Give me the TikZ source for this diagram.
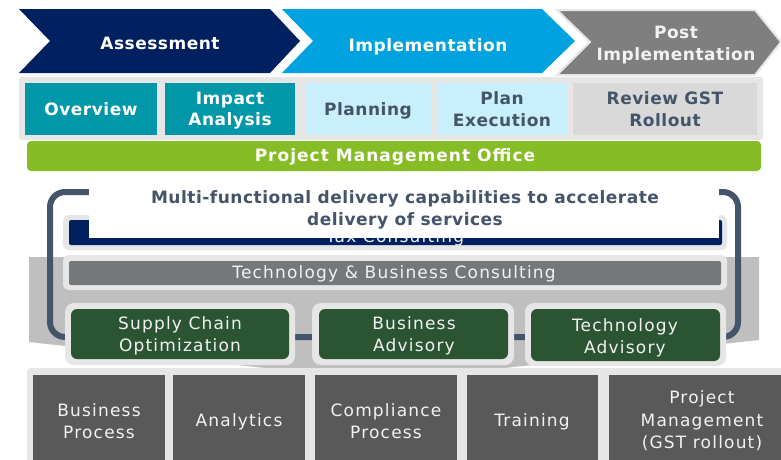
\documentclass[tikz,border=0pt]{standalone}
\usepackage{fontspec}
\setmainfont{DejaVu Sans}
\newfontfamily\bsp[LetterSpace=3]{DejaVu Sans}
\newfontfamily\bwide[LetterSpace=6]{DejaVu Sans}
\newfontfamily\rsp[LetterSpace=7]{DejaVu Sans}
\usetikzlibrary{fit}
\definecolor{navyc}{HTML}{002060}
\definecolor{skyc}{HTML}{00A3E0}
\definecolor{phgray}{HTML}{7F7F7F}
\definecolor{tealc}{HTML}{0097A9}
\definecolor{lblue}{HTML}{C9EEFC}
\definecolor{lgrayc}{HTML}{D9D9D9}
\definecolor{panelc}{HTML}{E6E6E6}
\definecolor{slatec}{HTML}{44546A}
\definecolor{pmoc}{HTML}{86BC25}
\definecolor{techgray}{HTML}{75787B}
\definecolor{dgreen}{HTML}{2B5532}
\definecolor{shadowc}{HTML}{BFBFBF}
\definecolor{dgrayc}{HTML}{595959}
\definecolor{outlc}{HTML}{E7E6E6}
\definecolor{softwhite}{HTML}{F2F2F2}
\begin{document}
\begin{tikzpicture}[x=1pt,y=-1pt,
  every node/.style={inner sep=0pt,outer sep=0pt,align=center},
  boldtext/.style={font=\bsp\bfseries\fontsize{17}{21.5}\selectfont},
  widetext/.style={font=\bwide\bfseries\fontsize{17}{21.5}\selectfont},
  regtext/.style={font=\rsp\fontsize{17}{22.5}\selectfont, text=softwhite},
  boxfit/.style={fit={#1}, inner sep=0pt},
]
\useasboundingbox[fill=white] (0,0) rectangle (781,459);

% ---- phase chevrons ----
\fill[navyc] (19,9) -- (270,9) -- (300,41) -- (270,73) -- (19,73) -- (50,41) -- cycle;
\fill[skyc] (282,9) -- (542,9) -- (575,41) -- (542,73) -- (282,73) -- (313,41) -- cycle;
\filldraw[fill=phgray, draw=outlc, line width=2pt, line join=miter]
  (557,10) -- (755,10) -- (781,42) -- (755,75) -- (557,75) -- (590,42) -- cycle;
\node[boldtext, text=white] (assess) at (160,43) {Assessment};
\node[boldtext, text=white] (impl) at (428,46.5) {Implementation};
\node[boldtext, text=softwhite] (postimpl) at (676,45) {Post\\Implementation};

% ---- sub-phase boxes ----
\node[boxfit={(19,77) (763,140)}, fill=panelc, rounded corners=3pt] (subpanel) {};
\node[boxfit={(25,83) (157,135)}, fill=tealc] (overviewbox) {};
\node[boxfit={(165,83) (295,135)}, fill=tealc] (impactbox) {};
\node[boxfit={(305,83) (431,135)}, fill=lblue] (planbox) {};
\node[boxfit={(437,83) (567,135)}, fill=lblue] (execbox) {};
\node[boxfit={(573,83) (757,135)}, fill=lgrayc] (reviewbox) {};
\node[boldtext, text=white] (overview) at (91,109) {Overview};
\node[boldtext, text=white] (impact) at (230,110.5) {Impact\\Analysis};
\node[boldtext, text=slatec] (planning) at (368,111) {Planning};
\node[boldtext, text=slatec] (execution) at (502,109) {Plan\\Execution};
\node[boldtext, text=slatec] (review) at (665,109) {Review GST\\Rollout};

% ---- PMO bar ----
\node[boxfit={(27,141) (761,171)}, fill=pmoc, rounded corners=4pt] (pmobox) {};
\node[widetext, text=white] (pmo) at (395,157) {Project Management Office};

% ---- middle section ----
\fill[shadowc] (29,257) -- (759,257) -- (759,340) -- (505,368) -- (265,368) -- (29,342) -- cycle;
\draw[slatec, line width=6pt, rounded corners=15pt] (50,192) rectangle (738,337);

\node[boxfit={(63,215) (727,250)}, fill=outlc, rounded corners=6pt] (taxouter) {};
\node[boxfit={(69,220) (722,245)}, fill=navyc, rounded corners=2pt] (taxbar) {};
\node[regtext, anchor=base] (taxtext) at (395,242.5) {Tax Consulting};

\node[boxfit={(63,255) (727,290)}, fill=outlc, rounded corners=6pt] (techouter) {};
\node[boxfit={(69,261) (721,285)}, fill=techgray, rounded corners=2pt] (techbar) {};
\node[regtext] (techtext) at (394,274) {Technology \& Business Consulting};

\node[boxfit={(65,303) (295,365)}, fill=outlc, rounded corners=9pt] (scoouter) {};
\node[boxfit={(71,309) (289,359)}, fill=dgreen, rounded corners=6pt] (scobox) {};
\node[boxfit={(312,303) (514,365)}, fill=outlc, rounded corners=9pt] (baouter) {};
\node[boxfit={(319,309) (508,359)}, fill=dgreen, rounded corners=6pt] (babox) {};
\node[boxfit={(525,303) (726,366)}, fill=outlc, rounded corners=9pt] (taouter) {};
\node[boxfit={(531,309) (720,361)}, fill=dgreen, rounded corners=6pt] (tabox) {};
\node[regtext] (sco) at (180,336) {Supply Chain\\Optimization};
\node[regtext] (ba) at (414,336) {Business\\Advisory};
\node[regtext] (ta) at (625,338) {Technology\\Advisory};

% ---- header over the bracket ----
\node[boxfit={(89,175) (719,238)}, fill=white] (hdrbox) {};
\node[boldtext, text=slatec] (hdr) at (405,210) {Multi-functional delivery capabilities to accelerate\\delivery of services};

% ---- bottom row ----
\node[boxfit={(27,368) (795,470)}, fill=outlc, rounded corners=4pt] (botpanel) {};
\node[boxfit={(33,375) (165,465)}, fill=dgrayc] (bpbox) {};
\node[boxfit={(173,375) (305,465)}, fill=dgrayc] (anbox) {};
\node[boxfit={(315,375) (457,465)}, fill=dgrayc] (cpbox) {};
\node[boxfit={(467,375) (598,465)}, fill=dgrayc] (trbox) {};
\node[boxfit={(609,375) (800,465)}, fill=dgrayc] (pmbox) {};
\node[regtext] (bp) at (99,421) {Business\\Process};
\node[regtext] (an) at (239,422) {Analytics};
\node[regtext] (cp) at (386,421) {Compliance\\Process};
\node[regtext] (tr) at (532,422) {Training};
\node[regtext] (pm) at (702,421) {Project\\Management\\(GST rollout)};
\end{tikzpicture}
\end{document}
